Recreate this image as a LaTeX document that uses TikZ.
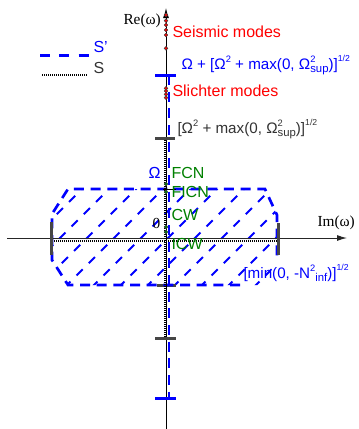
\documentclass[tikz,border=0pt]{standalone}
\usepackage{fontspec}
\setmainfont{Liberation Serif}
\setsansfont{Liberation Sans}
\usetikzlibrary{arrows.meta}
\definecolor{sblue}{RGB}{0,0,255}
\definecolor{mgreen}{RGB}{0,128,0}
\definecolor{tickgray}{RGB}{70,70,70}
\definecolor{txtgray}{RGB}{51,51,51}
\newcommand{\sqr}{\raisebox{0.42em}{\fontsize{7}{7}\selectfont 2}}
\newcommand{\lowtxt}[1]{\raisebox{-0.25em}{\fontsize{8.5}{9}\selectfont #1}}
\newcommand{\Osq}{Ω\sqr}
\newcommand{\Osup}{Ω\rlap{\sqr}\lowtxt{sup}}
\newcommand{\half}{\raisebox{0.5em}{\fontsize{6.5}{7}\selectfont 1/2}}

\tikzset{every picture/.style={line width=0.75pt}}
\tikzset{
  txt/.style={anchor=base west, inner sep=0pt, font=\sffamily\fontsize{12}{14}\selectfont},
  formula/.style={txt, font=\sffamily\fontsize{11.4}{14}\selectfont},
  axtxt/.style={anchor=base west, inner sep=0pt, font=\fontsize{11.5}{13}\selectfont},
  modedot/.style={circle, draw=black!75, fill=red, line width=0.4pt, inner sep=0pt, minimum size=2.8pt},
  gmodedot/.style={modedot, fill=mgreen},
  bnd/.style={tickgray, line width=2.25pt},
  sbnd/.style={sblue, line width=2.25pt},
  sline/.style={black, line width=1.5pt, dash pattern=on 0.75pt off 0.75pt},
  sprime/.style={sblue, line width=1.5pt, dash pattern=on 7.5pt off 5pt},
  hatch/.style={sblue, line width=1.5pt, dash pattern=on 6.5pt off 6.5pt},
}

\begin{document}
\begin{tikzpicture}[x=0.75pt,y=0.75pt,yscale=-1,xscale=1]
\useasboundingbox (0,0) rectangle (358,429);

%Shape: hatching of S'
\begin{scope}
\clip (68,189) -- (265,189) -- (277,215) -- (277,258) -- (265,285) -- (68,285) -- (52,260) -- (52,214) -- cycle;
\foreach \hx in {-110,-83,...,300}
  \draw[hatch] (\hx,300) -- ++(130,-130);
\end{scope}

%Straight Lines
\draw[bnd] (157,285) -- (176,285);
%Shape: outline of S'
\draw[sprime, line width=2pt] (240,285) -- (68,285) -- (52,260) -- (52,214) -- (68,189) -- (265,189) -- (277,215) -- (277,262);

%Straight Lines
\draw[black!85, -{Latex[length=7.5pt,width=4.5pt]}] (7,238) -- (347,238);
%Straight Lines
\draw[-{Latex[length=7.5pt,width=4.5pt]}] (166,429) -- (166,8);

%Straight Lines
\draw[sline] (52,240.5) -- (277,240.5);
%Straight Lines
\draw[sline] (164.8,138) -- (164.8,338);
%Straight Lines
\draw[sprime] (169,75) -- (169,398);

%Straight Lines
\draw[bnd] (155,138) -- (175,138);
%Straight Lines
\draw[bnd] (155,338) -- (176,338);
%Straight Lines
\draw[bnd] (51,222) -- (51,255);
%Straight Lines
\draw[bnd] (278,223) -- (278,255);
%Straight Lines
\draw[sbnd] (155,75) -- (176,75);
%Straight Lines
\draw[sbnd] (155,398) -- (176,398);
%Straight Lines
\draw (163,189) -- (176,189);

% modes
\foreach \my [count=\k] in {15,20.7,25,30,35,48.3}
  \node[modedot] (seis\k) at (166,\my) {};
\foreach \my [count=\k] in {88.3,91,94.3,97.7}
  \node[modedot] (sli\k) at (166,\my) {};
\node[gmodedot] (fcn) at (166,184) {};
\node[gmodedot] (ficn) at (166,192) {};
\node[gmodedot] (cw) at (166,227) {};
\node[gmodedot] (icw) at (166,232) {};

% legend
\draw[sprime, line width=2.25pt, dash pattern=on 7.5pt off 7pt] (40,55) -- (89,55);
\draw[sline, line width=2pt] (42,75) -- (88,75);
\node[txt, sblue] (lsp) at (93,52) {S'};
\node[txt, txtgray] (ls) at (93,73) {S};

% Text Node
\node[axtxt] (re) at (123,24) {Re(ω)};
% Text Node
\node[axtxt] (im) at (317,226) {Im(ω)};
% Text Node
\node[axtxt] (zero) at (152,228) {0};
% Text Node
\node[txt, red] (seis) at (172,37.5) {Seismic modes};
% Text Node
\node[formula, sblue] (upper) at (181,69) {Ω + [\Osq{} + max(0, \Osup)]\half};
% Text Node
\node[txt, red] (sli) at (172,96.5) {Slichter modes};
% Text Node
\node[formula, txtgray] (sqroot) at (177,133) {[\Osq{} + max(0, \Osup)]\half};
% Text Node
\node[txt, sblue] (om) at (148,178) {Ω};
% Text Node
\node[txt, mgreen] (lfcn) at (171,178.3) {FCN};
% Text Node
\node[txt, mgreen] (lficn) at (171,197.7) {FICN};
% Text Node
\node[txt, mgreen] (lcw) at (171,220) {CW};
% Text Node
\node[txt, mgreen] (licw) at (171,249) {ICW};
% Text Node
\node[formula, sblue] (nlow) at (243,278) {[min(0, -N\sqr\lowtxt{inf})]\half};
\end{tikzpicture}
\end{document}
